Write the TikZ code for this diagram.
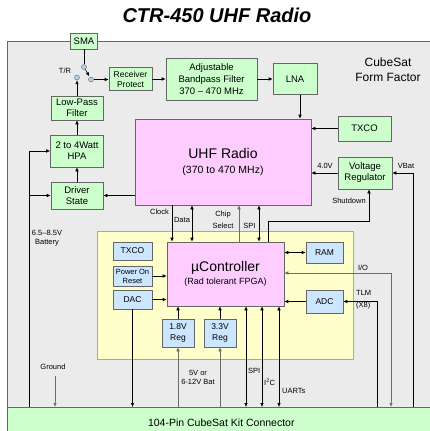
\documentclass[tikz,border=0pt]{standalone}
\usepackage{fontspec}
\setmainfont{Liberation Sans}
\usetikzlibrary{arrows.meta}

\definecolor{boxgreen}{HTML}{CCFFCC}
\definecolor{boxpink}{HTML}{FFCCFF}
\definecolor{boxblue}{HTML}{CCE6FF}
\definecolor{boardyellow}{HTML}{FFFFCC}
\definecolor{formgray}{HTML}{EBEBEB}
\definecolor{edgegray}{HTML}{666666}
\definecolor{switchblue}{HTML}{B4D2E6}

\begin{document}
\begin{tikzpicture}[x=1pt,y=-1pt,
        >={Latex[length=4pt,width=3.5pt]},
        block/.style={draw=edgegray,line width=0.6pt,align=center,inner sep=0pt,
            font=\fontsize{9.5}{11}\selectfont},
        rf/.style={block,fill=boxgreen},
        chip/.style={block,fill=boxblue,font=\fontsize{8.5}{10.5}\selectfont},
        core/.style={block,fill=boxpink},
        swpin/.style={circle,draw=edgegray,fill=switchblue,minimum size=5pt,inner sep=0pt},
        wire/.style={line width=0.6pt},
        gwire/.style={wire,draw=gray!85!black},
        lbl/.style={font=\fontsize{7.5}{9}\selectfont,inner sep=0pt,align=center}]

    \useasboundingbox (0,0) rectangle (429,431);

    \fill[formgray] (7,41) rectangle (440,440);
    \draw[edgegray,line width=0.8pt] (440,41) -- (7,41) -- (7,440);
    \draw[fill=boardyellow,draw=gray!70,line width=0.6pt] (97,231) rectangle (353,359);

    \node[font=\fontsize{20}{24}\selectfont\bfseries\itshape] (title) at (217,15) {CTR-450 UHF Radio};

    \node[rf,minimum width=27pt,minimum height=16pt] (sma) at (84,41) {SMA};
    \node[swpin] (ant) at (84,67) {};
    \node[swpin] (tx) at (77,77.5) {};
    \node[swpin] (rx) at (91,79.5) {};
    \node[lbl] (trlbl) at (65,71) {T/R};
    \node[rf,minimum width=43pt,minimum height=23pt,font=\fontsize{8.5}{10}\selectfont] (rxprot) at (130.5,79) {Receiver\\Protect};
    \node[rf,minimum width=91pt,minimum height=42pt,font=\fontsize{9.5}{12}\selectfont] (bpf) at (211.5,79) {Adjustable\\Bandpass Filter\\370 – 470 MHz};
    \node[rf,minimum width=44pt,minimum height=31pt] (lna) at (295,79) {LNA};
    \node[lbl,font=\fontsize{12}{14.5}\selectfont] (form) at (388,69.5) {CubeSat\\Form Factor};

    \node[core,minimum width=176pt,minimum height=86pt,font=\fontsize{14}{15}\selectfont] (uhf) at (223,162)
        {UHF Radio\\{\fontsize{10.5}{12}\selectfont (370 to 470 MHz)}};
    \node[rf,minimum width=53pt,minimum height=25pt] (txco) at (364.5,128.5) {TXCO};
    \node[rf,minimum width=52pt,minimum height=24pt] (lpf) at (77,108) {Low-Pass\\Filter};
    \node[rf,minimum width=53pt,minimum height=32pt] (hpa) at (77,151) {2 to 4Watt\\HPA};
    \node[rf,minimum width=52pt,minimum height=27pt] (drv) at (77,195.5) {Driver\\State};
    \node[rf,minimum width=54pt,minimum height=32pt] (vreg) at (365,173) {Voltage\\Regulator};

    \node[core,minimum width=117pt,minimum height=64pt,font=\fontsize{14}{13}\selectfont] (uc) at (225.5,274)
        {µController\\{\fontsize{9}{11}\selectfont (Rad tolerant FPGA)}};
    \node[chip,minimum width=39pt,minimum height=18pt] (osc) at (132.5,251) {TXCO};
    \node[chip,minimum width=39pt,minimum height=20pt,font=\fontsize{7.5}{9}\selectfont] (por) at (132.5,276) {Power On\\Reset};
    \node[chip,minimum width=39pt,minimum height=19pt] (dac) at (132.5,299.5) {DAC};
    \node[chip,minimum width=32pt,minimum height=28pt] (reg18) at (178,333) {1.8V\\Reg};
    \node[chip,minimum width=32pt,minimum height=28pt] (reg33) at (220,333) {3.3V\\Reg};
    \node[chip,minimum width=37pt,minimum height=21pt] (ram) at (324.5,252.5) {RAM};
    \node[chip,minimum width=37pt,minimum height=23pt] (adc) at (324.5,301.5) {ADC};

    \node[fill=boxgreen,draw=edgegray,line width=0.6pt,minimum width=428pt,minimum height=30pt,inner sep=0pt,
        anchor=north west,font=\fontsize{10.5}{12}\selectfont] (conn) at (7,407) {104-Pin CubeSat Kit Connector};

    % RF chain
    \draw[wire] (sma) -- (ant);
    \draw[wire,->,shorten >=1pt] (ant) -- (rx);
    \draw[wire,->] (rx) -- (rx -| rxprot.west);
    \draw[wire,->] (lpf) -- (tx);
    \draw[wire,->] (rxprot.east) -- (rxprot.east -| bpf.west);
    \draw[wire,->] (bpf.east) -- (bpf.east -| lna.west);
    \draw[wire,->] ([xshift=5pt]lna.south) -- ([xshift=5pt]lna.south |- uhf.north);
    \draw[wire,->] (txco.west) -- (txco.west -| uhf.east);
    \draw[wire,->] (hpa) -- (lpf);
    \draw[wire,->] (drv) -- (hpa);
    \draw[wire,->] (drv.east -| uhf.west) -- (drv.east);

    % power
    \coordinate (bat) at (29,151);
    \draw[wire,->] (bat |- conn.north) -- (bat) -- (hpa.west);
    \draw[wire,->] (bat |- drv.west) -- (drv.west);
    \node[lbl] (batlbl) at (47,238.5) {6.5–8.5V\\Battery};
    \draw[wire,->] (vreg.west) -- (vreg.west -| uhf.east);
    \node[lbl] (vlbl) at (325,166) {4.0V};
    \coordinate (vbat) at (413,173);
    \draw[wire,->] (vbat |- conn.north) -- (vbat) -- (vreg.east);
    \node[lbl] (vbatlbl) at (406,166) {VBat};
    \coordinate (sd) at (268,221);
    \draw[wire,->] (uc.north -| sd) -- (sd) -| ([xshift=4pt]vreg.south);
    \node[lbl] (sdlbl) at (349,201) {Shutdown};

    % radio to controller
    \foreach \x/\tip in {172/->,192/<->,259/<->}
        \draw[wire,\tip] (uhf.south -| \x,0) -- (uc.north -| \x,0);
    \draw[gwire,->] (uc.north -| 239,0) -- (uhf.south -| 239,0);
    \node[lbl] (clklbl) at (159.5,212) {Clock};
    \node[lbl] (datalbl) at (182,220) {Data};
    \node[lbl] (cslbl) at (223,220) {Chip\\[3pt]Select};
    \node[lbl] (spilbl) at (249.5,226) {SPI};

    % controller board
    \draw[wire,<->] (uc.east |- ram) -- (ram.west);
    \draw[wire,->] (adc.west) -- (adc.west -| uc.east);
    \draw[wire,->] (por.east) -- (por.east -| uc.west);
    \draw[wire,->] (dac.east) -- (dac.east -| uc.west);
    \draw[wire,->] (reg18) -- (reg18 |- uc.south);
    \draw[wire,->] (reg33) -- (reg33 |- uc.south);
    \draw[gwire,->] (reg18 |- conn.north) -- (reg18);
    \draw[gwire,->] (reg33 |- conn.north) -- (reg33);
    \draw[wire,->] (dac) -- (dac |- conn.north);
    \node[lbl] (suplbl) at (198,377.5) {5V or\\6-12V Bat};

    \foreach \x in {246,262,279}
        \draw[wire,<->] (uc.south -| \x,0) -- (conn.north -| \x,0);
    \node[lbl,anchor=west] (spi2lbl) at (248,371) {SPI};
    \node[lbl,anchor=west] (i2clbl) at (264,382) {I\textsuperscript{2}C};
    \node[lbl,anchor=west] (uartlbl) at (282,391) {UARTs};

    \coordinate (io) at (391,273);
    \draw[gwire,<->] (uc.east |- io) -- (io) -- (io |- conn.north);
    \node[lbl] (iolbl) at (363,268) {I/O};
    \coordinate (tlm) at (377,301.5);
    \draw[wire,->] (tlm |- conn.north) -- (tlm) -- (adc.east);
    \node[lbl,align=left,anchor=west] (tlmlbl) at (356,300) {TLM\\[3pt](X8)};

    \coordinate (gnd) at (55,376);
    \draw[gwire,->] (gnd) -- (gnd |- conn.north);
    \node[lbl] (gndlbl) at (53,367) {Ground};
\end{tikzpicture}
\end{document}
